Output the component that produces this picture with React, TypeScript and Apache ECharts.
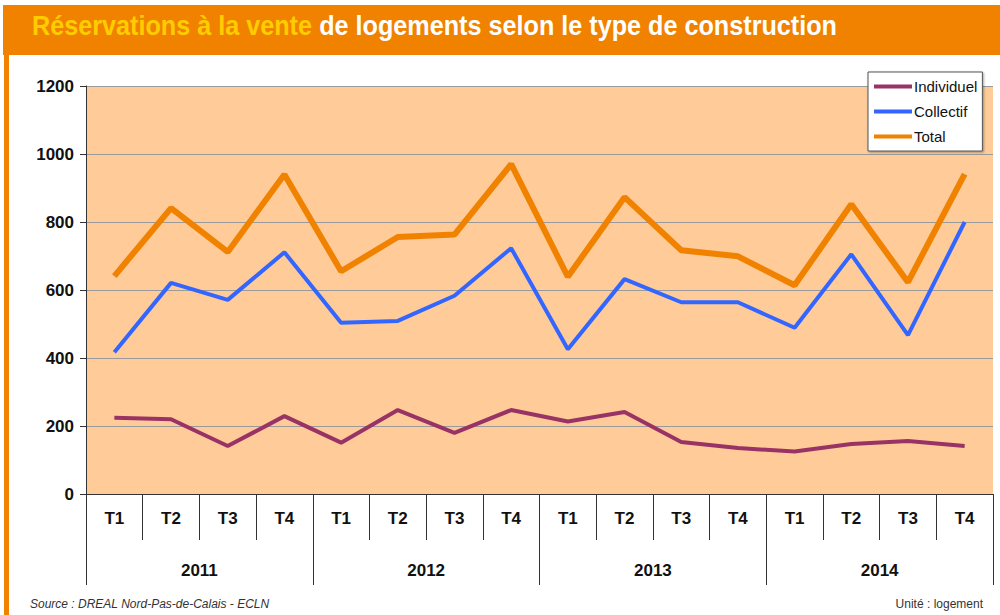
import React, { useEffect, useRef } from "react";
import * as echarts from "echarts";

const quarters = ["T1", "T2", "T3", "T4", "T1", "T2", "T3", "T4", "T1", "T2", "T3", "T4", "T1", "T2", "T3", "T4"];
const years = ["2011", "2012", "2013", "2014"];
const individuel = [224, 220, 141, 229, 151, 247, 180, 247, 213, 241, 153, 135, 125, 147, 156, 141];
const collectif = [417, 621, 571, 711, 504, 509, 583, 723, 426, 632, 564, 564, 489, 705, 467, 800];
const total = [641, 841, 712, 940, 655, 756, 763, 970, 639, 873, 717, 699, 614, 852, 623, 941];
const yTicks = [0, 200, 400, 600, 800, 1000, 1200];

const FONT = "'Liberation Sans Narrow', 'Liberation Sans', Arial, sans-serif";

export default function App() {
  const ref = useRef<HTMLDivElement>(null);
  useEffect(() => {
    document.body.style.margin = "0";
    const chart = echarts.init(ref.current!, undefined, { renderer: "svg" });
    chart.setOption({
      animation: false,
      backgroundColor: "#ffffff",
      graphic: [
        { type: "rect", shape: { x: 3, y: 5, width: 997, height: 50 }, style: { fill: "#F08200" }, z: 0 },
        { type: "rect", shape: { x: 4, y: 55, width: 5, height: 560 }, style: { fill: "#F08200" }, z: 0 },
        {
          type: "text", x: 32, y: 12, scaleX: 0.9, z: 10,
          style: {
            rich: {
              a: { fill: "#FFCC00", fontSize: 28, fontWeight: "bold", fontFamily: FONT },
              b: { fill: "#ffffff", fontSize: 28, fontWeight: "bold", fontFamily: FONT },
            },
            text: "{a|Réservations à la vente}{b| de logements selon le type de construction}",
          },
        },
        {
          type: "text", left: 30, top: 598, z: 10,
          style: { text: "Source : DREAL Nord-Pas-de-Calais - ECLN", fill: "#333", fontSize: 12, fontStyle: "italic", fontFamily: FONT },
        },
        {
          type: "text", right: 17, top: 598, z: 10,
          style: { text: "Unité : logement", fill: "#333", fontSize: 12, fontFamily: FONT },
        },
      ],
      legend: {
        orient: "vertical",
        left: 868,
        top: 72,
        backgroundColor: "#ffffff",
        borderColor: "#555",
        borderWidth: 1,
        shadowColor: "rgba(0,0,0,0.35)",
        shadowBlur: 2,
        shadowOffsetX: 1,
        shadowOffsetY: 1,
        padding: [7, 5, 7, 6],
        itemGap: 10,
        itemWidth: 38,
        itemHeight: 4,
        icon: "rect",
        textStyle: { fontSize: 15, color: "#111", fontFamily: FONT, padding: [0, 0, 0, -3] },
        data: ["Individuel", "Collectif", "Total"],
      },
      grid: {
        left: 86, top: 86, right: 7, bottom: 121,
        show: true, backgroundColor: "#FFCC99", borderWidth: 0,
      },
      xAxis: [
        {
          type: "category", data: quarters, position: "bottom",
          axisLine: { show: true, lineStyle: { color: "#333", width: 1 } },
          axisTick: { show: true, length: 46, lineStyle: { color: "#333" } },
          axisLabel: { margin: 16, fontSize: 17, fontWeight: "bold", color: "#111", fontFamily: FONT, interval: 0 },
        },
        {
          type: "category", data: years, position: "bottom",
          axisLine: { show: false },
          axisTick: { show: true, length: 91, lineStyle: { color: "#333" } },
          axisLabel: { margin: 68, fontSize: 17, fontWeight: "bold", color: "#111", fontFamily: FONT, interval: 0 },
        },
      ],
      yAxis: {
        type: "value", min: 0, max: 1200, interval: 200,
        axisLine: { show: true, lineStyle: { color: "#333" } },
        axisTick: { show: true, length: 6, lineStyle: { color: "#333" } },
        axisLabel: {
          margin: 12, fontSize: 17, fontWeight: "bold", color: "#111", fontFamily: FONT,
          formatter: (v: number) => (yTicks.includes(v) ? String(v) : ""),
        },
        splitLine: { show: true, lineStyle: { color: "#9a9a9a", width: 1 } },
      },
      series: [
        { name: "Individuel", type: "line", data: individuel, symbol: "none", lineStyle: { color: "#993366", width: 4 }, itemStyle: { color: "#993366" }, z: 3 },
        { name: "Collectif", type: "line", data: collectif, symbol: "none", lineStyle: { color: "#3366FF", width: 4 }, itemStyle: { color: "#3366FF" }, z: 3 },
        { name: "Total", type: "line", data: total, symbol: "none", lineStyle: { color: "#F08200", width: 6 }, itemStyle: { color: "#F08200" }, z: 3 },
      ],
    });
    return () => chart.dispose();
  }, []);
  return <div ref={ref} style={{ width: 1000, height: 615 }} />;
}
